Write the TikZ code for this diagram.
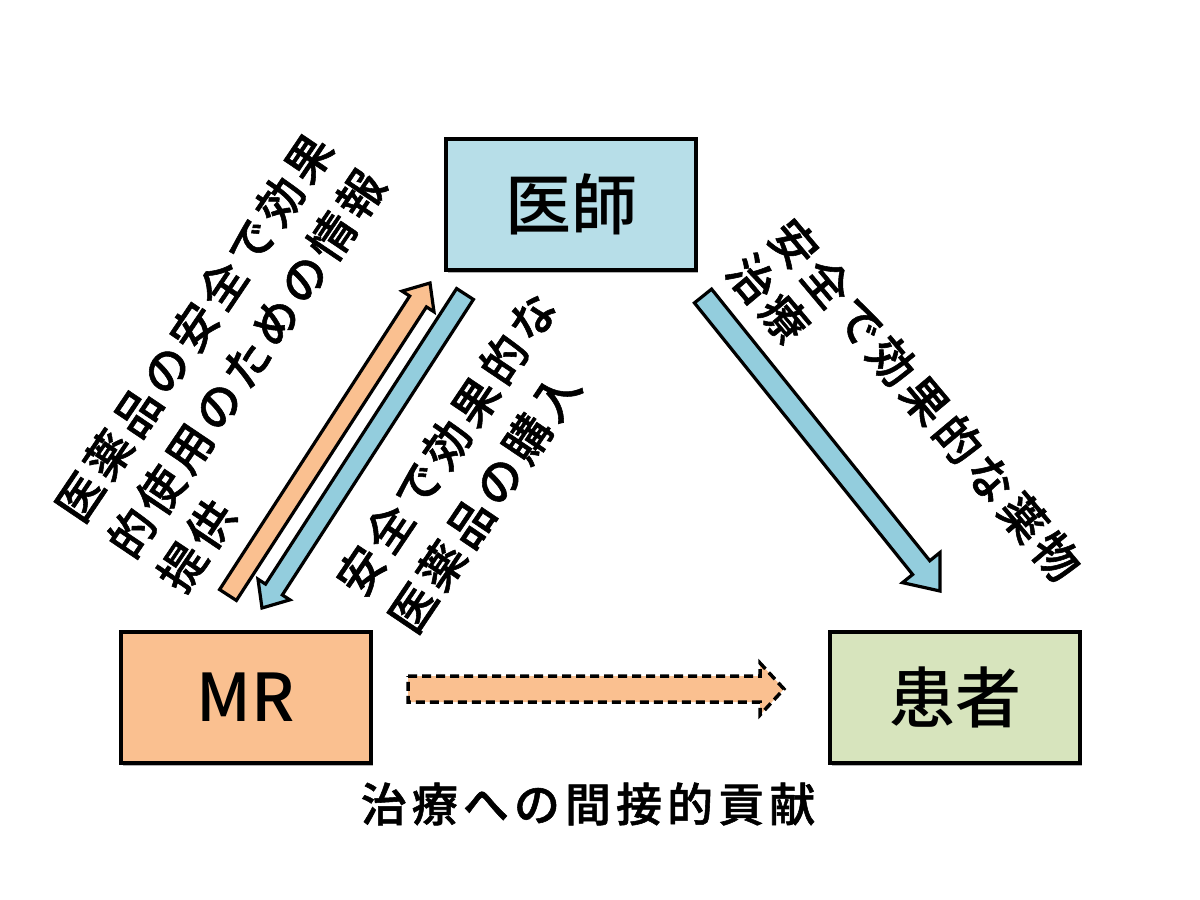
\documentclass[tikz,border=0pt]{standalone}
\usepackage{fontspec}
\newfontfamily\jp{Noto Sans CJK JP Medium}
\newfontfamily\jpl[LetterSpace=11,FakeBold=1.2]{Noto Sans CJK JP Medium}
\usetikzlibrary{calc,shadows}
\definecolor{boxblue}{HTML}{B7DEE8}
\definecolor{arrblue}{HTML}{93CDDD}
\definecolor{boxorange}{HTML}{FAC090}
\definecolor{boxgreen}{HTML}{D7E4BD}
\newcommand\blockarrow[6]{%
  \coordinate (#2#3hb) at ($(#3)!#6!(#2)$);
  \path[#1] ($(#2)!#4!90:(#3)$) -- ($(#2#3hb)!#4!90:(#3)$) -- ($(#2#3hb)!#5!90:(#3)$)
    -- (#3) -- ($(#2#3hb)!#5!-90:(#3)$) -- ($(#2#3hb)!#4!-90:(#3)$)
    -- ($(#2)!#4!-90:(#3)$) -- cycle;
}
\tikzset{
  box/.style={draw=black, line width=4pt, minimum width=250pt, minimum height=131pt,
    inner sep=0pt, font=\jp\fontsize{66}{80}\selectfont,
    drop shadow={shadow xshift=2pt, shadow yshift=-3pt, opacity=0.3, fill=black}},
  lbl/.style={inner sep=0pt, anchor=west, font=\jpl\fontsize{46}{56}\selectfont},
  barrow/.style={draw=black, line width=3.2pt, line join=miter},
}
\begin{document}
\begin{tikzpicture}[x=1pt, y=-1pt]
\useasboundingbox[fill=white] (0,0) rectangle (1200,900);

% boxes
\node[box, fill=boxblue] (doc) at (571,204) {医師};
\node[box, fill=boxorange] (mr) at (246,697) {MR};
\node[box, fill=boxgreen] (pat) at (955,697) {患者};

% arrow end points
\coordinate (oT) at (228,595);
\coordinate (oH) at (430,283);
\coordinate (bT) at (465,294);
\coordinate (bH) at (262,608);
\coordinate (rT) at (703,296);
\coordinate (rH) at (940,591);
\coordinate (dT) at (408,689);
\coordinate (dH) at (784,689);

\blockarrow{barrow, fill=boxorange}{oT}{oH}{10pt}{19pt}{22pt}
\blockarrow{barrow, fill=arrblue}{bT}{bH}{10pt}{19pt}{22pt}
\blockarrow{barrow, fill=arrblue}{rT}{rH}{11pt}{24pt}{30pt}
\blockarrow{barrow, fill=boxorange, line width=3.5pt, dash pattern=on 9pt off 5pt}{dT}{dH}{13pt}{26pt}{24pt}

% labels
\node[lbl, rotate=56] (l1) at (67,516) {医薬品の安全で効果};
\node[lbl, rotate=56] (l2) at (119,552) {的使用のための情報};
\node[lbl, rotate=56] (l3) at (169,586) {提供};

\node[lbl, rotate=56] (m1) at (348,590) {安全で効果的な};
\node[lbl, rotate=56] (m2) at (400,627) {医薬品の購入};

\node[lbl, rotate=-50] (r1) at (779,226) {安全で効果的な薬物};
\node[lbl, rotate=-50] (r2) at (737,261) {治療};

\node[inner sep=0pt, font=\jpl\fontsize{46}{56}\selectfont] (bot) at (588,804) {治療への間接的貢献};
\end{tikzpicture}
\end{document}
